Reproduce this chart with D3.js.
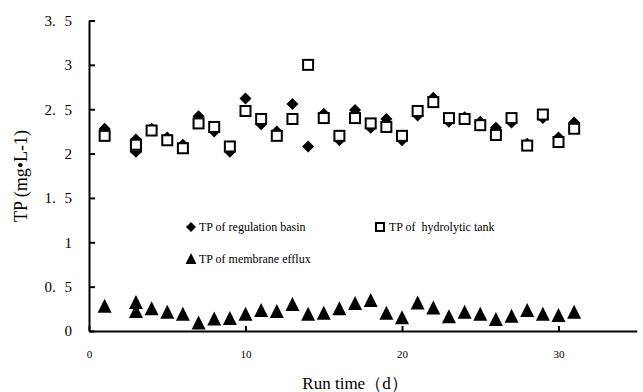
<!DOCTYPE html>
<html>
<head>
<meta charset="utf-8">
<script src="https://cdn.jsdelivr.net/npm/d3@7"></script>
<style>
html,body{margin:0;padding:0;background:#fff;}
svg{display:block;}
text{font-family:"Liberation Serif","Times New Roman",serif;fill:#000;}
</style>
</head>
<body>
<svg id="chart" width="643" height="392"></svg>
<script>
const days = [1,3,3,4,5,6,7,8,9,10,11,12,13,14,15,16,17,18,19,20,21,22,23,24,25,26,27,28,29,30,31];
const regulationBasin = [2.28,2.16,2.02,2.28,2.18,2.10,2.42,2.25,2.02,2.62,2.33,2.25,2.56,2.08,2.45,2.15,2.49,2.29,2.39,2.15,2.43,2.63,2.36,2.41,2.36,2.29,2.35,2.11,2.40,2.18,2.35];
const hydrolyticTank = [2.20,2.08,2.10,2.26,2.15,2.06,2.34,2.30,2.08,2.48,2.39,2.20,2.39,3.00,2.40,2.20,2.40,2.34,2.30,2.20,2.48,2.58,2.40,2.39,2.32,2.21,2.40,2.09,2.44,2.13,2.28];
const membraneEfflux = [0.28,0.32,0.22,0.25,0.21,0.19,0.09,0.135,0.14,0.19,0.23,0.22,0.30,0.19,0.20,0.25,0.31,0.345,0.20,0.15,0.315,0.26,0.16,0.21,0.19,0.13,0.165,0.23,0.19,0.175,0.21];
const xTicks = [0,10,20,30];
const yTicks = [0,0.5,1,1.5,2,2.5,3,3.5];
const yTickLabels = ["0","0. 5","1","1. 5","2","2. 5","3","3. 5"];
const seriesNames = ["TP of regulation basin","TP of  hydrolytic tank","TP of membrane efflux"];
const xTitle = "Run time（d）";
const yTitle = "TP (mg•L-1)";

const svg = d3.select("#chart");
const x = d3.scaleLinear().domain([0,35]).range([89,636.75]);
const y = d3.scaleLinear().domain([0,3.5]).range([331,20.5]);

// axes
const xAxis = d3.axisBottom(x).tickValues(xTicks).tickSizeInner(-5).tickSizeOuter(0).tickPadding(19).tickFormat(d3.format("d"));
const gx = svg.append("g").attr("transform","translate(0,331)").call(xAxis);
gx.select(".domain").attr("stroke","#000").attr("stroke-width",2);
gx.selectAll(".tick line").attr("stroke","#000").attr("stroke-width",2);
gx.selectAll(".tick text").attr("font-size",11).attr("font-family","'Liberation Serif',serif");

const yAxis = d3.axisLeft(y).tickValues(yTicks).tickSizeInner(-6).tickSizeOuter(0).tickPadding(17).tickFormat("");
const gy = svg.append("g").attr("transform","translate(89,0)").call(yAxis);
gy.select(".domain").attr("stroke","#000").attr("stroke-width",2);
gy.selectAll(".tick line").attr("stroke","#000").attr("stroke-width",2);
gy.selectAll(".tick text").each(function(d,i){
  const t = d3.select(this).text(null).attr("font-size",15).attr("font-family","'Liberation Serif',serif").style("white-space","pre");
  const parts = yTickLabels[i].split(" ");
  if (parts.length === 2) {
    t.append("tspan").text(parts[0] + " ");
    t.append("tspan").attr("dx",5).text(parts[1]);
  } else {
    t.text(yTickLabels[i]);
  }
});

// titles
svg.append("text").attr("x",355).attr("y",389).attr("text-anchor","middle").attr("font-size",17).text(xTitle);
svg.append("text").attr("transform","translate(27,176) rotate(-90)").attr("text-anchor","middle").attr("font-size",18).text(yTitle);

const diamondPath = "M0,-6L6,0L0,6L-6,0Z";

// series: diamonds
svg.append("g").selectAll("path").data(days).join("path")
  .attr("d",diamondPath)
  .attr("transform",(d,i)=>`translate(${x(d)},${y(regulationBasin[i])})`)
  .attr("fill","#000");
// squares
svg.append("g").selectAll("rect").data(days).join("rect")
  .attr("x",(d)=>x(d)-5).attr("y",(d,i)=>y(hydrolyticTank[i])-5)
  .attr("width",10).attr("height",10)
  .attr("fill","#fff").attr("stroke","#000").attr("stroke-width",2);
// triangles
const triPath = "M0,-7.5L7,6.5L-7,6.5Z";
svg.append("g").selectAll("path").data(days).join("path")
  .attr("d",triPath)
  .attr("transform",(d,i)=>`translate(${x(d)},${y(membraneEfflux[i])})`)
  .attr("fill","#000");

// legend
const leg = svg.append("g");
leg.append("path").attr("d","M0,-5L5,0L0,5L-5,0Z").attr("transform","translate(191,227)").attr("fill","#000");
leg.append("text").attr("x",199).attr("y",231).attr("font-size",12).text(seriesNames[0]);
leg.append("rect").attr("x",376).attr("y",223).attr("width",8).attr("height",8).attr("fill","#fff").attr("stroke","#000").attr("stroke-width",2);
leg.append("text").attr("x",389).attr("y",231).attr("font-size",12).style("white-space","pre").text(seriesNames[1]);
leg.append("path").attr("d","M0,-6L5.5,5L-5.5,5Z").attr("transform","translate(191,259)").attr("fill","#000");
leg.append("text").attr("x",199).attr("y",263).attr("font-size",12).text(seriesNames[2]);
</script>
</body>
</html>
